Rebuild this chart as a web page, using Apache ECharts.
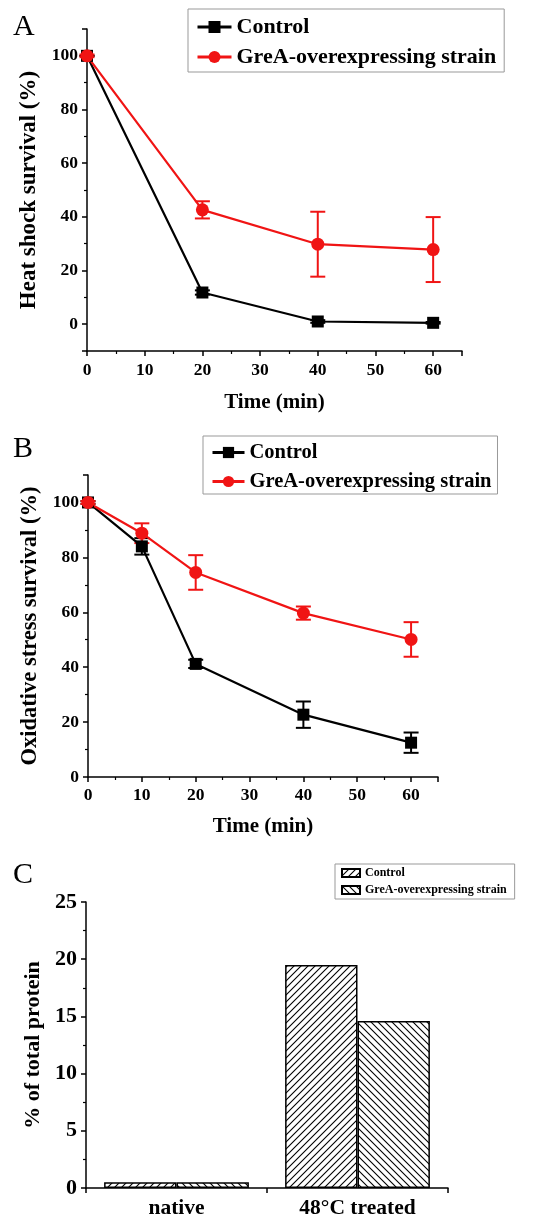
<!DOCTYPE html>
<html>
<head>
<meta charset="utf-8">
<script src="https://cdn.jsdelivr.net/npm/echarts@6/dist/echarts.min.js"></script>
<style>
html,body{margin:0;padding:0;background:#fff;}
#chart{width:553px;height:1227px;}
</style>
</head>
<body>
<div id="chart"></div>
<script>
// ---- Data ----
const timeA = [0, 20, 40, 60];
const heatControl = [100, 11.8, 1.0, 0.5];
const heatControlErr = [0, 0.8, 0.5, 0.3];
const heatGreA = [100, 42.6, 29.8, 27.8];
const heatGreAErr = [0.5, 3.2, 12.1, 12.1];

const timeB = [0, 10, 20, 40, 60];
const oxControl = [100, 84.0, 41.2, 22.7, 12.5];
const oxControlErr = [0.5, 3.0, 1.5, 4.8, 3.7];
const oxGreA = [100, 88.8, 74.5, 59.7, 50.1];
const oxGreAErr = [0.5, 3.6, 6.3, 2.4, 6.3];

const categoriesC = ['native', '48°C treated'];
const aggControl = [0.5, 19.5];
const aggGreA = [0.5, 14.6];

const seriesNames = ['Control', 'GreA-overexpressing strain'];

// ---- Styles ----
const FONT = "'Liberation Serif', 'Times New Roman', serif";
const RED = '#f01414';
const BLACK = '#000';

function hatch(dir) {
  const s = 7;
  const c = document.createElement('canvas');
  c.width = s; c.height = s;
  const g = c.getContext('2d');
  g.fillStyle = '#fff'; g.fillRect(0, 0, s, s);
  g.strokeStyle = '#000'; g.lineWidth = 1.1;
  g.beginPath();
  if (dir > 0) {
    g.moveTo(0, s); g.lineTo(s, 0);
    g.moveTo(-1, 1); g.lineTo(1, -1);
    g.moveTo(s - 1, s + 1); g.lineTo(s + 1, s - 1);
  } else {
    g.moveTo(0, 0); g.lineTo(s, s);
    g.moveTo(s - 1, -1); g.lineTo(s + 1, 1);
    g.moveTo(-1, s - 1); g.lineTo(1, s + 1);
  }
  g.stroke();
  return c;
}

function errData(xs, ys, es) {
  return xs.map((x, i) => [x, ys[i] - es[i], ys[i] + es[i]]);
}
function errRenderer(color) {
  return function (params, api) {
    const x = api.value(0);
    const lo = api.coord([x, api.value(1)]);
    const hi = api.coord([x, api.value(2)]);
    const w = 7.5;
    const st = { stroke: color, lineWidth: 2 };
    return {
      type: 'group',
      children: [
        { type: 'line', shape: { x1: lo[0], y1: lo[1], x2: hi[0], y2: hi[1] }, style: st },
        { type: 'line', shape: { x1: hi[0] - w, y1: hi[1], x2: hi[0] + w, y2: hi[1] }, style: st },
        { type: 'line', shape: { x1: lo[0] - w, y1: lo[1], x2: lo[0] + w, y2: lo[1] }, style: st }
      ]
    };
  };
}

function axisCommon(labelSize) {
  return {
    axisLine: { show: true, onZero: false, lineStyle: { color: BLACK, width: 1.5 } },
    axisTick: { show: true, inside: false, length: 5, lineStyle: { color: BLACK, width: 1.5 } },
    minorTick: { show: true, splitNumber: 2, length: 3, lineStyle: { color: BLACK, width: 1.2 } },
    splitLine: { show: false },
    axisLabel: { color: BLACK, fontFamily: FONT, fontWeight: 'bold', fontSize: labelSize },
    nameTextStyle: { color: BLACK, fontFamily: FONT, fontWeight: 'bold' }
  };
}

const legendFormatter = n => n.split('|')[1];

const xA = Object.assign(axisCommon(17.5), {
  type: 'value', gridIndex: 0, min: 0, max: 65, interval: 10,
  name: 'Time (min)', nameLocation: 'middle', nameGap: 41
});
xA.axisLabel = Object.assign({}, xA.axisLabel, { margin: 10, showMaxLabel: false });
xA.nameTextStyle = Object.assign({}, xA.nameTextStyle, { fontSize: 21 });

const yA = Object.assign(axisCommon(17.5), {
  type: 'value', gridIndex: 0, min: -10, max: 110, splitNumber: 6,
  name: 'Heat shock survival (%)', nameLocation: 'middle', nameGap: 41.5
});
yA.axisLabel = Object.assign({}, yA.axisLabel, { margin: 9, showMaxLabel: false, showMinLabel: false });
yA.nameTextStyle = Object.assign({}, yA.nameTextStyle, { fontSize: 23 });

const xB = Object.assign(axisCommon(17.5), {
  type: 'value', gridIndex: 1, min: 0, max: 65, interval: 10,
  name: 'Time (min)', nameLocation: 'middle', nameGap: 39.5
});
xB.axisLabel = Object.assign({}, xB.axisLabel, { margin: 9, showMaxLabel: false });
xB.nameTextStyle = Object.assign({}, xB.nameTextStyle, { fontSize: 21 });

const yB = Object.assign(axisCommon(17.5), {
  type: 'value', gridIndex: 1, min: 0, max: 110, splitNumber: 6,
  name: 'Oxidative stress survival (%)', nameLocation: 'middle', nameGap: 41
});
yB.axisLabel = Object.assign({}, yB.axisLabel, { margin: 9, showMaxLabel: false });
yB.nameTextStyle = Object.assign({}, yB.nameTextStyle, { fontSize: 22.5 });

const xC = Object.assign(axisCommon(21.5), {
  type: 'category', gridIndex: 2, data: categoriesC
});
xC.minorTick = { show: false };
xC.axisLabel = Object.assign({}, xC.axisLabel, { margin: 9 });

const yC = Object.assign(axisCommon(22), {
  type: 'value', gridIndex: 2, min: 0, max: 25, interval: 5,
  name: '% of total protein', nameLocation: 'middle', nameGap: 35.5
});
yC.axisLabel = Object.assign({}, yC.axisLabel, { margin: 9 });
yC.nameTextStyle = Object.assign({}, yC.nameTextStyle, { fontSize: 22 });

const patControl = { image: hatch(1), repeat: 'repeat' };
const patGreA = { image: hatch(-1), repeat: 'repeat' };

function lineSeries(name, xs, ys, idx, color, symbol, size) {
  return {
    name: name, type: 'line', xAxisIndex: idx, yAxisIndex: idx,
    data: xs.map((x, i) => [x, ys[i]]),
    symbol: symbol, symbolSize: size,
    lineStyle: { color: color, width: 2.2 },
    itemStyle: { color: color },
    z: 3, animation: false
  };
}
function errSeries(xs, ys, es, idx, color) {
  return {
    type: 'custom', xAxisIndex: idx, yAxisIndex: idx,
    data: errData(xs, ys, es), renderItem: errRenderer(color),
    z: 2, animation: false, silent: true
  };
}

const titleStyle = { fontFamily: FONT, fontWeight: 'normal', fontSize: 30, color: BLACK };

const option = {
  backgroundColor: '#fff',
  animation: false,
  title: [
    { text: 'A', left: 8, top: 7, textStyle: titleStyle },
    { text: 'B', left: 8, top: 429, textStyle: titleStyle },
    { text: 'C', left: 8, top: 855, textStyle: titleStyle }
  ],
  grid: [
    { left: 87, top: 29, width: 375, height: 322 },
    { left: 88, top: 475, width: 350, height: 302 },
    { left: 86, top: 902, width: 362, height: 286 }
  ],
  legend: [
    {
      data: ['A|' + seriesNames[0], 'A|' + seriesNames[1]], formatter: legendFormatter,
      orient: 'vertical', left: 188, top: 9, itemWidth: 34, itemHeight: 15, itemGap: 8,
      padding: [7, 8, 4, 8], borderColor: '#999', borderWidth: 1, selectedMode: false,
      lineStyle: { width: 3 },
      textStyle: { fontFamily: FONT, fontWeight: 'bold', fontSize: 22, color: BLACK }
    },
    {
      data: ['B|' + seriesNames[0], 'B|' + seriesNames[1]], formatter: legendFormatter,
      orient: 'vertical', left: 203, top: 436, itemWidth: 32, itemHeight: 14, itemGap: 8,
      padding: [6, 6, 2, 8], borderColor: '#999', borderWidth: 1, selectedMode: false,
      lineStyle: { width: 3 },
      textStyle: { fontFamily: FONT, fontWeight: 'bold', fontSize: 20.5, color: BLACK }
    },
    {
      data: ['C|' + seriesNames[0], 'C|' + seriesNames[1]], formatter: legendFormatter,
      orient: 'vertical', left: 335, top: 864, itemWidth: 18, itemHeight: 8, itemGap: 5,
      padding: [3, 8, 3, 6], borderColor: '#999', borderWidth: 1, selectedMode: false,
      icon: 'rect',
      textStyle: { fontFamily: FONT, fontWeight: 'bold', fontSize: 12, color: BLACK }
    }
  ],
  xAxis: [xA, xB, xC],
  yAxis: [yA, yB, yC],
  series: [
    errSeries(timeA, heatControl, heatControlErr, 0, BLACK),
    errSeries(timeA, heatGreA, heatGreAErr, 0, RED),
    lineSeries('A|' + seriesNames[0], timeA, heatControl, 0, BLACK, 'rect', 12),
    lineSeries('A|' + seriesNames[1], timeA, heatGreA, 0, RED, 'circle', 13),

    errSeries(timeB, oxControl, oxControlErr, 1, BLACK),
    errSeries(timeB, oxGreA, oxGreAErr, 1, RED),
    lineSeries('B|' + seriesNames[0], timeB, oxControl, 1, BLACK, 'rect', 12),
    lineSeries('B|' + seriesNames[1], timeB, oxGreA, 1, RED, 'circle', 13),

    {
      name: 'C|' + seriesNames[0], type: 'bar', xAxisIndex: 2, yAxisIndex: 2,
      data: aggControl, barWidth: '40%', barGap: '0%',
      itemStyle: { color: patControl, borderColor: BLACK, borderWidth: 1.5 }
    },
    {
      name: 'C|' + seriesNames[1], type: 'bar', xAxisIndex: 2, yAxisIndex: 2,
      data: aggGreA, barWidth: '40%', barGap: '0%',
      itemStyle: { color: patGreA, borderColor: BLACK, borderWidth: 1.5 }
    }
  ]
};

const chart = echarts.init(document.getElementById('chart'), null, { renderer: 'canvas' });
chart.setOption(option);
</script>
</body>
</html>
